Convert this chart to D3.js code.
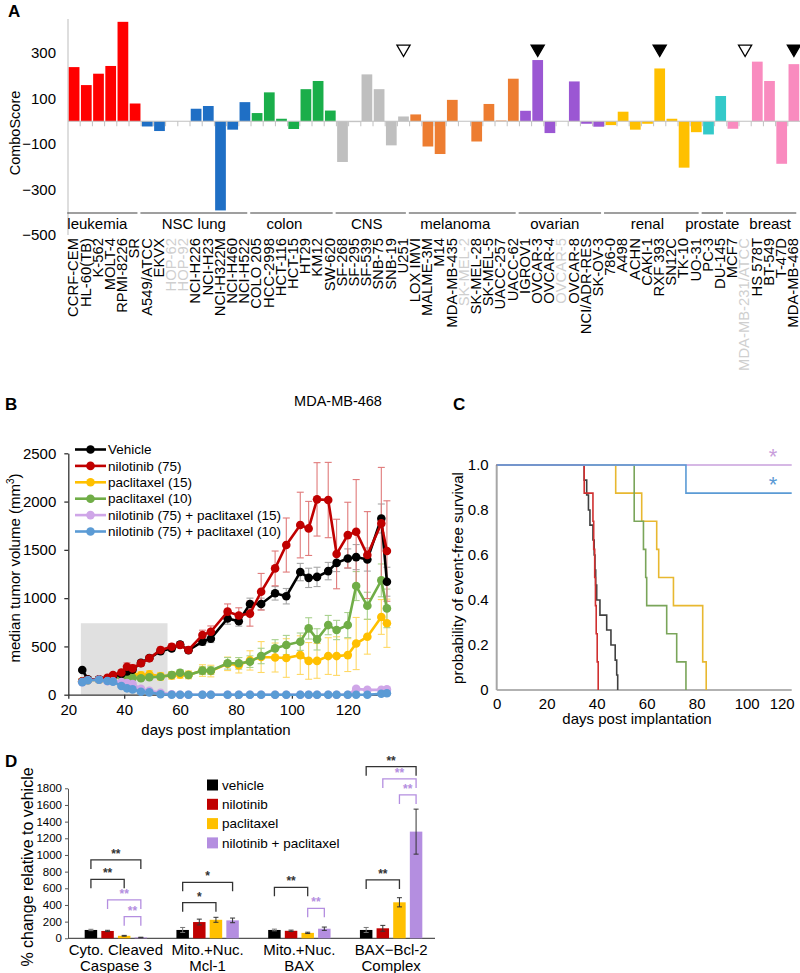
<!DOCTYPE html>
<html><head><meta charset="utf-8">
<script src="https://cdn.jsdelivr.net/npm/d3@7"></script>
<style>body{margin:0;background:#fff} svg{display:block;font-family:Arial,"Liberation Sans",sans-serif}</style>
</head><body>
<svg id="chart" width="800" height="973"></svg>
<script>
// ================= DATA =================
// Panel A
const cellLines = ["CCRF-CEM","HL-60(TB)","K-562","MOLT-4","RPMI-8226","SR",
 "A549/ATCC","EKVX","HOP-62","HOP-92","NCI-H226","NCI-H23","NCI-H322M","NCI-H460","NCI-H522",
 "COLO 205","HCC-2998","HCT-116","HCT-15","HT29","KM12","SW-620",
 "SF-268","SF-295","SF-539","SNB-75","SNB-19","U251",
 "LOX IMVI","MALME-3M","M14","MDA-MB-435","SK-MEL-2","SK-MEL-28","SK-MEL-5","UACC-257","UACC-62",
 "IGROV1","OVCAR-3","OVCAR-4","OVCAR-5","OVCAR-8","NCI/ADR-RES","SK-OV-3",
 "786-0","A498","ACHN","CAKI-1","RXF 393","SN12C","TK-10","UO-31",
 "PC-3","DU-145",
 "MCF7","MDA-MB-231/ATCC","HS 578T","BT-549","T-47D","MDA-MB-468"];
const cellGroups = ["leukemia","leukemia","leukemia","leukemia","leukemia","leukemia",
 "NSC lung","NSC lung","NSC lung","NSC lung","NSC lung","NSC lung","NSC lung","NSC lung","NSC lung",
 "colon","colon","colon","colon","colon","colon","colon",
 "CNS","CNS","CNS","CNS","CNS","CNS",
 "melanoma","melanoma","melanoma","melanoma","melanoma","melanoma","melanoma","melanoma","melanoma",
 "ovarian","ovarian","ovarian","ovarian","ovarian","ovarian","ovarian",
 "renal","renal","renal","renal","renal","renal","renal","renal",
 "prostate","prostate",
 "breast","breast","breast","breast","breast","breast"];
const comboScores = [238,159,209,243,437,78,
 -23,-43,null,null,55,67,-392,-37,84,
 36,127,11,-34,141,177,47,
 -179,-4,206,141,-106,21,
 30,-111,-144,94,null,-89,76,3,187,
 46,269,-52,null,175,-11,-24,
 -17,42,-37,-11,232,11,-204,-48,
 -58,111,
 -33,null,262,177,-187,251];
const groupNames = ["leukemia","NSC lung","colon","CNS","melanoma","ovarian","renal","prostate","breast"];
const groupColors = ["#ff0000","#1f6fc5","#1aae4a","#bfbfbf","#ed7d31","#9b57d3","#ffc000","#33c9c9","#f98bbf"];
const yTicksA = [300,100,-100,-300,-500];
const markedLines = ["U251","OVCAR-3","RXF 393","MDA-MB-231/ATCC","MDA-MB-468"];
const markedFilled = [false,true,true,false,true];

// Panel B
const days = [25,27,31,34,36,39,41,43,46,49,53,57,60,63,68,71,77,81,85,89,94,98,103,106,109,113,116,120,123,127,132,134];
const vehicleVol = [256,160,160,165,190,215,240,260,330,380,450,480,520,460,550,580,790,760,940,940,1050,1020,1270,1210,1220,1280,1365,1410,1425,1400,1825,1170];
const vehicleErr = [15,10,10,10,15,15,20,20,25,25,30,30,30,30,40,40,60,50,60,60,70,80,90,100,100,90,90,100,130,120,150,150];
const nilotinibVol = [140,155,160,175,204,230,290,273,325,377,463,497,514,463,618,652,860,820,840,1066,1308,1550,1757,1722,2023,2016,1457,1653,1688,1446,1774,1488];
const nilotinibErr = [10,10,15,20,20,25,40,40,30,30,30,30,30,30,50,60,80,80,130,190,180,280,340,280,380,390,360,340,540,450,580,520];
const pac15Vol = [140,150,155,160,170,190,200,210,200,210,190,200,210,205,250,245,320,305,355,390,385,380,410,350,350,400,400,410,530,600,805,740];
const pac15Err = [10,10,10,15,15,20,20,20,40,40,40,40,40,40,60,60,70,80,100,160,150,200,200,190,180,190,200,170,270,180,180,250];
const pac10Vol = [140,150,155,165,186,185,185,175,170,180,186,204,228,204,249,249,325,325,342,401,480,514,549,687,573,721,670,721,1125,921,1184,894];
const pac10Err = [10,10,10,15,15,15,20,20,20,25,25,30,30,30,40,40,60,60,60,80,90,100,90,110,110,100,100,130,150,140,170,200];
const combo15Vol = [130,150,155,140,140,130,120,110,60,40,20,5,0,0,0,0,0,0,0,0,0,0,0,0,0,0,0,0,60,50,50,55];
const combo15Err = [10,10,10,10,10,10,10,10,10,10,5,5,0,0,0,0,0,0,0,0,0,0,0,0,0,0,0,0,20,15,15,15];
const combo10Vol = [130,150,155,142,135,90,66,55,30,24,5,0,0,0,0,0,0,0,0,0,0,0,0,0,0,0,0,0,0,0,10,15];
const combo10Err = [10,10,10,10,10,10,10,8,8,5,3,0,0,0,0,0,0,0,0,0,0,0,0,0,0,0,0,0,0,0,5,5];
const seriesNamesB = ["Vehicle","nilotinib (75)","paclitaxel (15)","paclitaxel (10)","nilotinib (75) + paclitaxel (15)","nilotinib (75) + paclitaxel (10)"];
const seriesColorsB = ["#000000","#c00000","#ffc000","#70ad47","#cfa6e8","#5b9bd5"];
const errColorsB = ["#a6a6a6","#e07a7a","#ffd966","#a9d18e","#e3cdf2","#a8c8ea"];
const shadedDays = [24.5, 55.5];
const shadedMax = 740;

// Panel C (Kaplan-Meier: event times and survival after each event)
const kmVehicleT = [35,36,36.7,37.3,38.5,39,39.3,39.6,40,41.3,44,45.7,47.4,48,48.4];
const kmVehicleS = [0.933,0.867,0.8,0.733,0.667,0.6,0.533,0.467,0.4,0.333,0.267,0.2,0.133,0.067,0];
const kmNiloT = [35,38.5,38.8,39.2,39.5,39.8,40.2,40.6];
const kmNiloS = [0.875,0.75,0.625,0.5,0.375,0.25,0.125,0];
const kmPac15T = [47.6,58,64,64.8,70.7,82.4,83.8];
const kmPac15S = [0.875,0.75,0.625,0.5,0.375,0.125,0];
const kmPac10T = [55,58.7,59.6,60,68,72,75.7];
const kmPac10S = [0.75,0.625,0.5,0.375,0.25,0.125,0];
const kmCombo15T = [];
const kmCombo15S = [];
const kmCombo10T = [75.7];
const kmCombo10S = [0.875];
const kmEndDay = 118;
const kmColors = ["#404040","#d03030","#e8b830","#7aa55a","#c9a0dc","#5b9bd5"];

// Panel D
const markerGroups = ["Cyto. Cleaved|Caspase 3","Mito.+Nuc.|Mcl-1","Mito.+Nuc.|BAX","BAX\u2212Bcl-2|Complex"];
const treatments = ["vehicle","nilotinib","paclitaxel","nilotinib + paclitaxel"];
const treatColors = ["#000000","#c00000","#ffc000","#b48ee0"];
const pctVehicle = [[100,88,30,10],[100,195,222,215],[100,90,65,115],[100,120,432,1280]];
const pctErr = [[8,8,5,3],[30,35,30,28],[10,8,8,20],[30,35,55,270]];
// significance brackets: group, from, to, level (value units), label, colour
const sigGroup = [0,0,0,0,1,1,2,2,3,3,3,3];
const sigFrom  = [0,0,1,2,0,0,0,2,0,0,1,2];
const sigTo    = [3,2,3,3,3,2,2,3,2,3,3,3];
const sigLevel = [940,708,460,260,672,427,612,360,700,2060,1912,1720];
const sigLabel = ["**","**","**","**","*","*","**","**","**","**","**","**"];
const sigPurple= [false,false,true,true,false,false,false,true,false,false,true,true];

// ================= DRAW =================
const svg = d3.select("#chart");
const FF = "Arial,'Liberation Sans',sans-serif";

function panelLabel(t,x,y){
  svg.append("text").attr("x",x).attr("y",y).attr("font-size",17).attr("font-weight","bold").text(t);
}

// ---------- Panel A ----------
(function(){
  const g = svg.append("g");
  const x = d3.scaleBand().domain(cellLines).range([68,800]).paddingInner(0.12).paddingOuter(0.06);
  const y = d3.scaleLinear().domain([-500,500]).range([235,7.5]);
  const color = d3.scaleOrdinal().domain(groupNames).range(groupColors);
  const step = x.step();

  const ya = g.append("g").attr("transform","translate(68,0)")
    .call(d3.axisLeft(y).tickValues(yTicksA).tickFormat(d3.format("d")).tickSize(0).tickPadding(12));
  ya.select(".domain").remove();
  ya.selectAll("text").attr("font-size",15).attr("fill","#000").attr("font-family",FF);
  g.append("line").attr("x1",68).attr("x2",68).attr("y1",y(-500)).attr("y2",y(450)).attr("stroke","#c8c8c8").attr("stroke-width",1.2);

  g.append("text").attr("transform","translate(20,133) rotate(-90)").attr("text-anchor","middle")
    .attr("font-size",14.5).text("ComboScore");

  g.selectAll("rect.bar").data(cellLines.map((c,i)=>({c,v:comboScores[i],grp:cellGroups[i]})).filter(d=>d.v!==null))
    .join("rect").attr("class","bar")
    .attr("x",d=>x(d.c)).attr("width",x.bandwidth())
    .attr("y",d=>y(Math.max(0,d.v))).attr("height",d=>Math.abs(y(d.v)-y(0)))
    .attr("fill",d=>color(d.grp));

  g.append("line").attr("x1",68).attr("x2",800).attr("y1",y(0)).attr("y2",y(0)).attr("stroke","#c0c0c0").attr("stroke-width",1.2);
  g.selectAll("line.bt").data(cellLines.slice(1)).join("line").attr("class","bt")
    .attr("x1",d=>x(d)-step*0.06).attr("x2",d=>x(d)-step*0.06)
    .attr("y1",y(0)).attr("y2",y(0)+5).attr("stroke","#c0c0c0");

  markedLines.forEach((c,i)=>{
    g.append("path").attr("d",d3.symbol(d3.symbolTriangle,75)())
      .attr("transform",`translate(${x(c)+x.bandwidth()/2},${y(318)}) rotate(180)`)
      .attr("fill",markedFilled[i]?"#000":"#fff").attr("stroke","#000").attr("stroke-width",1.3);
  });

  const labelShift = {"leukemia":-5,"NSC lung":0,"colon":-7,"CNS":-4,"melanoma":-7,"ovarian":-5,"renal":-4,"prostate":0,"breast":9};
  groupNames.forEach(gn=>{
    const members = cellLines.filter((c,i)=>cellGroups[i]===gn);
    const x0 = x(members[0])-1.5, x1 = x(members[members.length-1])+x.bandwidth()-3;
    g.append("line").attr("x1",x0).attr("x2",x1).attr("y1",213).attr("y2",213).attr("stroke","#404040").attr("stroke-width",1.1);
    g.append("text").attr("x",(x0+x1)/2+labelShift[gn]).attr("y",229).attr("text-anchor","middle").attr("font-size",15).text(gn);
  });

  const greyed = cellLines.filter((c,i)=>comboScores[i]===null);
  g.selectAll("text.cl").data(cellLines).join("text").attr("class","cl")
    .attr("transform",d=>`translate(${x(d)+x.bandwidth()/2-1},238) rotate(-90)`)
    .attr("text-anchor","end").attr("dy","0.36em").attr("font-size",14.8)
    .attr("fill",d=>greyed.includes(d)?"#cfcfcf":"#000").text(d=>d);

  panelLabel("A",8,17);
})();

// ---------- Panel B ----------
(function(){
  const g = svg.append("g");
  const x = d3.scaleLinear().domain([20,135]).range([68.3,389.7]);
  const y = d3.scaleLinear().domain([0,2500]).range([694.7,453.3]);
  const vols = [vehicleVol,nilotinibVol,pac15Vol,pac10Vol,combo15Vol,combo10Vol];
  const errs = [vehicleErr,nilotinibErr,pac15Err,pac10Err,combo15Err,combo10Err];

  g.append("rect").attr("x",x(shadedDays[0])).attr("width",x(shadedDays[1])-x(shadedDays[0]))
    .attr("y",y(shadedMax)).attr("height",y(0)-y(shadedMax)).attr("fill","#e0e0e0");

  const xa = g.append("g").attr("transform",`translate(0,${y(0)})`)
    .call(d3.axisBottom(x).tickValues([20,40,60,80,100,120]).tickFormat(d3.format("d")).tickSize(4).tickSizeOuter(0).tickPadding(6));
  const ya = g.append("g").attr("transform",`translate(${x(20)},0)`)
    .call(d3.axisLeft(y).tickValues([0,500,1000,1500,2000,2500]).tickFormat(d3.format("d")).tickSize(4).tickSizeOuter(0).tickPadding(8));
  [xa,ya].forEach(a=>{
    a.selectAll("text").attr("font-size",15).attr("fill","#000").attr("font-family",FF);
    a.selectAll("line,path").attr("stroke","#333").attr("stroke-width",1.3);
  });

  g.append("text").attr("x",216).attr("y",735).attr("text-anchor","middle").attr("font-size",15).text("days post implantation");
  const yl = g.append("text").attr("transform","translate(20,568) rotate(-90)").attr("text-anchor","middle").attr("font-size",15);
  yl.append("tspan").text("median tumor volume (mm");
  yl.append("tspan").attr("font-size",10).attr("dy",-6).text("3");
  yl.append("tspan").attr("dy",6).text(")");
  g.append("text").attr("x",338).attr("y",406).attr("text-anchor","middle").attr("font-size",14.5).text("MDA-MB-468");

  const order = [2,3,0,1,4,5];
  order.forEach(s=>{
    const eg = g.append("g").attr("stroke",errColorsB[s]).attr("stroke-width",1.1);
    days.forEach((d,i)=>{
      const v = vols[s][i], e = errs[s][i];
      if(v===null || !e) return;
      const lo = Math.max(0,v-e), hi = v+e;
      eg.append("line").attr("x1",x(d)).attr("x2",x(d)).attr("y1",y(lo)).attr("y2",y(hi));
      eg.append("line").attr("x1",x(d)-3.5).attr("x2",x(d)+3.5).attr("y1",y(hi)).attr("y2",y(hi));
      eg.append("line").attr("x1",x(d)-3.5).attr("x2",x(d)+3.5).attr("y1",y(lo)).attr("y2",y(lo));
    });
  });
  const line = d3.line().x(d=>x(d[0])).y(d=>y(d[1]));
  order.forEach(s=>{
    const pts = days.map((d,i)=>[d,vols[s][i]]);
    g.append("path").attr("d",line(pts)).attr("fill","none").attr("stroke",seriesColorsB[s]).attr("stroke-width",2.6);
    g.selectAll(null).data(pts).join("circle").attr("cx",d=>x(d[0])).attr("cy",d=>y(d[1])).attr("r",4.3)
      .attr("fill",seriesColorsB[s]);
  });

  seriesNamesB.forEach((n,i)=>{
    const ly = 449.5 + i*16.4;
    g.append("line").attr("x1",75).attr("x2",106).attr("y1",ly).attr("y2",ly).attr("stroke",seriesColorsB[i]).attr("stroke-width",2.6);
    g.append("circle").attr("cx",90.5).attr("cy",ly).attr("r",4.3).attr("fill",seriesColorsB[i]);
    g.append("text").attr("x",108).attr("y",ly).attr("dy","0.35em").attr("font-size",13.5).text(n);
  });
  panelLabel("B",5,410);
})();

// ---------- Panel C ----------
(function(){
  const g = svg.append("g");
  const x = d3.scaleLinear().domain([0,120]).range([496.7,796.7]);
  const y = d3.scaleLinear().domain([0,1]).range([690,465]);

  const xa = g.append("g").attr("transform",`translate(0,${y(0)})`)
    .call(d3.axisBottom(x).tickValues([0,20,40,60,80,100,120]).tickSize(0).tickPadding(8));
  xa.select(".domain").remove();
  g.append("line").attr("x1",x(0)).attr("x2",x(118)).attr("y1",y(0)).attr("y2",y(0)).attr("stroke","#999").attr("stroke-width",1.4);
  const ya = g.append("g").attr("transform",`translate(${x(0)},0)`)
    .call(d3.axisLeft(y).tickValues([0,0.2,0.4,0.6,0.8,1]).tickFormat(d=>d===0?"0":d3.format(".1f")(d)).tickSize(0).tickPadding(8));
  ya.select(".domain").remove();
  g.append("line").attr("x1",x(0)).attr("x2",x(0)).attr("y1",y(0)).attr("y2",y(1)).attr("stroke","#a6a6a6").attr("stroke-width",2);
  [xa,ya].forEach(a=>a.selectAll("text").attr("font-size",15).attr("fill","#000").attr("font-family",FF));
  xa.selectAll(".tick").filter(d=>d===120).select("text").attr("text-anchor","end").attr("dx",-2.5);

  g.append("text").attr("x",637).attr("y",724).attr("text-anchor","middle").attr("font-size",15).text("days post implantation");
  g.append("text").attr("transform","translate(463,578) rotate(-90)").attr("text-anchor","middle").attr("font-size",15)
    .text("probability of event-free survival");

  const line = d3.line().curve(d3.curveStepAfter).x(d=>x(d[0])).y(d=>y(d[1]));
  const sets = [[kmVehicleT,kmVehicleS,false],[kmNiloT,kmNiloS,false],[kmPac15T,kmPac15S,false],[kmPac10T,kmPac10S,false],[kmCombo15T,kmCombo15S,true],[kmCombo10T,kmCombo10S,true]];
  [2,3,0,1,4,5].forEach(s=>{
    const [T,S,extend] = sets[s];
    const pts = [[0,1]];
    T.forEach((t,i)=>pts.push([t,S[i]]));
    if(extend) pts.push([kmEndDay, S.length?S[S.length-1]:1]);
    g.append("path").attr("d",line(pts)).attr("fill","none").attr("stroke",kmColors[s]).attr("stroke-width",1.6);
  });
  g.append("text").attr("x",773).attr("y",464).attr("text-anchor","middle").attr("font-size",22).attr("fill",kmColors[4]).text("*");
  g.append("text").attr("x",773).attr("y",492).attr("text-anchor","middle").attr("font-size",22).attr("fill",kmColors[5]).text("*");
  panelLabel("C",453,410);
})();

// ---------- Panel D ----------
(function(){
  const g = svg.append("g");
  const x0 = d3.scaleBand().domain(markerGroups).range([70,437]).paddingInner(0.32).paddingOuter(0.16);
  const x1 = d3.scaleBand().domain(treatments).range([0,x0.bandwidth()]).paddingInner(0.25);
  const y = d3.scaleLinear().domain([0,1800]).range([938.3,788.3]);

  const ya = g.append("g").attr("transform","translate(68,0)")
    .call(d3.axisLeft(y).tickValues(d3.range(0,1801,200)).tickFormat(d3.format("d")).tickSize(3).tickSizeOuter(0).tickPadding(3));
  ya.selectAll("text").attr("font-size",11.5).attr("fill","#000").attr("font-family",FF);
  ya.selectAll("line,path").attr("stroke","#555");
  g.append("line").attr("x1",68).attr("x2",435).attr("y1",y(0)).attr("y2",y(0)).attr("stroke","#555").attr("stroke-width",1.2);

  g.append("text").attr("transform","translate(33,867) rotate(-90)").attr("text-anchor","middle").attr("font-size",16)
    .text("% change relative to vehicle");

  markerGroups.forEach((m,gi)=>{
    treatments.forEach((t,si)=>{
      const v = pctVehicle[gi][si], e = pctErr[gi][si];
      const bx = x0(m)+x1(t);
      g.append("rect").attr("x",bx).attr("width",x1.bandwidth()).attr("y",y(v)).attr("height",y(0)-y(v)).attr("fill",treatColors[si]);
      const cx = bx + x1.bandwidth()/2;
      const eg = g.append("g").attr("stroke",si===0?"#777":"#333").attr("stroke-width",1);
      eg.append("line").attr("x1",cx).attr("x2",cx).attr("y1",y(v-e)).attr("y2",y(v+e));
      eg.append("line").attr("x1",cx-2.5).attr("x2",cx+2.5).attr("y1",y(v+e)).attr("y2",y(v+e));
      eg.append("line").attr("x1",cx-2.5).attr("x2",cx+2.5).attr("y1",y(v-e)).attr("y2",y(v-e));
    });
    const parts = m.split("|");
    const cx = x0(m)+x0.bandwidth()/2;
    g.append("text").attr("x",cx).attr("y",955).attr("text-anchor","middle").attr("font-size",15).text(parts[0]);
    g.append("text").attr("x",cx).attr("y",971).attr("text-anchor","middle").attr("font-size",15).text(parts[1]);
  });

  sigGroup.forEach((gi,k)=>{
    const m = markerGroups[gi];
    const xa = x0(m)+x1(treatments[sigFrom[k]])+x1.bandwidth()/2;
    const xb = x0(m)+x1(treatments[sigTo[k]])+x1.bandwidth()/2;
    const yy = y(sigLevel[k]);
    const col = sigPurple[k]?"#b48ee0":"#333";
    g.append("path").attr("d",`M${xa},${yy+9}V${yy}H${xb}V${yy+9}`).attr("fill","none").attr("stroke",col).attr("stroke-width",1.3);
    g.append("text").attr("x",(xa+xb)/2).attr("y",yy-2).attr("text-anchor","middle").attr("font-size",12).attr("font-weight","bold")
      .attr("fill",col).text(sigLabel[k]);
  });

  treatments.forEach((t,i)=>{
    const ly = 785 + i*19.3;
    g.append("rect").attr("x",207).attr("y",ly-5.5).attr("width",11).attr("height",11).attr("fill",treatColors[i]);
    g.append("text").attr("x",222).attr("y",ly).attr("dy","0.36em").attr("font-size",13.5).text(t);
  });
  panelLabel("D",5,767);
})();
</script></body></html>
